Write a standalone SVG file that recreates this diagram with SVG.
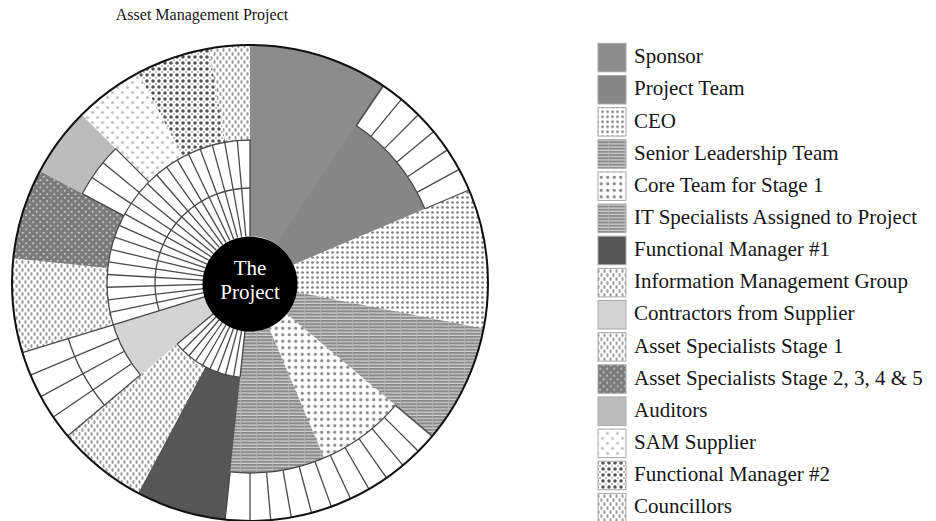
<svg xmlns="http://www.w3.org/2000/svg" xmlns:xlink="http://www.w3.org/1999/xlink" width="936" height="521" viewBox="0 0 936 521">
<style>
.t{font-family:"Liberation Serif","Times New Roman",serif;fill:#151515}
.lg{font-family:"Liberation Serif","Times New Roman",serif;font-size:21px;fill:#151515}
.sec{fill:none}
.gl{stroke:#4a4a4a;stroke-width:1.3;fill:none}
.sq{stroke:#a8a8a8;stroke-width:1}
</style>
<defs>
<pattern id="pCEO" width="5" height="5" patternUnits="userSpaceOnUse"><rect width="5" height="5" fill="#fff"/><circle cx="2.5" cy="2.5" r="1.35" fill="#808080"/></pattern>
<pattern id="pCore" width="6.5" height="6.5" patternUnits="userSpaceOnUse"><rect width="6.5" height="6.5" fill="#fff"/><circle cx="3.25" cy="3.25" r="1.6" fill="#888"/></pattern>
<pattern id="pLines" width="16" height="3.2" patternUnits="userSpaceOnUse"><rect width="16" height="3.2" fill="#d0d0d0"/><rect width="16" height="2" fill="#8a8a8a"/><rect width="0.7" height="3.2" fill="#b8b8b8"/></pattern>
<pattern id="pV" width="6" height="8" patternUnits="userSpaceOnUse"><rect width="6" height="8" fill="#fff"/><ellipse cx="1.5" cy="2" rx="1.1" ry="2" fill="#999"/><ellipse cx="4.5" cy="6" rx="1.1" ry="2" fill="#999"/></pattern>
<pattern id="pAS2" width="7" height="7" patternUnits="userSpaceOnUse"><rect width="7" height="7" fill="#7b7b7b"/><circle cx="1.75" cy="1.75" r="1.1" fill="#c6c6c6"/><circle cx="5.25" cy="5.25" r="1.1" fill="#c6c6c6"/></pattern>
<pattern id="pSAM" width="10" height="10" patternUnits="userSpaceOnUse"><rect width="10" height="10" fill="#fff"/><circle cx="2.5" cy="2.5" r="1.6" fill="#c4c4c4"/><circle cx="7.5" cy="7.5" r="1.6" fill="#c4c4c4"/></pattern>
<pattern id="pFM2" width="6" height="6" patternUnits="userSpaceOnUse"><rect width="6" height="6" fill="#fff"/><circle cx="3" cy="3" r="1.8" fill="#555"/><circle cx="0" cy="0" r="1" fill="#aaa"/><circle cx="6" cy="0" r="1" fill="#aaa"/><circle cx="0" cy="6" r="1" fill="#aaa"/><circle cx="6" cy="6" r="1" fill="#aaa"/></pattern>
<line id="L4" x1="250" y1="93" x2="250" y2="45"/>
<line id="L3" x1="250" y1="140" x2="250" y2="93"/>
<line id="L34" x1="250" y1="140" x2="250" y2="45"/>
<line id="L1" x1="250" y1="236" x2="250" y2="188"/>
<line id="L12" x1="250" y1="236" x2="250" y2="140"/>
</defs>
<rect width="936" height="521" fill="#fff"/>
<text class="t" x="202" y="20" font-size="16" text-anchor="middle">Asset Management Project</text>

<circle cx="250" cy="283" r="238" fill="#fff"/>

<g id="sponsor"><circle class="sec" cx="250" cy="283" r="142.5" stroke="#8c8c8c" stroke-width="191" pathLength="360" stroke-dasharray="34.3 325.7" stroke-dashoffset="90"/></g>
<g id="project-team"><circle class="sec" cx="250" cy="283" r="118.5" stroke="#868686" stroke-width="143" pathLength="360" stroke-dasharray="33.3 326.7" stroke-dashoffset="56"/></g>
<g id="ceo"><circle class="sec" cx="250" cy="283" r="142.5" stroke="url(#pCEO)" stroke-width="191" pathLength="360" stroke-dasharray="34.3 325.7" stroke-dashoffset="23"/></g>
<g id="senior-leadership-team"><circle class="sec" cx="250" cy="283" r="142.5" stroke="url(#pLines)" stroke-width="191" pathLength="360" stroke-dasharray="29.3 330.7" stroke-dashoffset="-11"/></g>
<g id="core-team-stage-1"><circle class="sec" cx="250" cy="283" r="118.5" stroke="url(#pCore)" stroke-width="143" pathLength="360" stroke-dasharray="27.3 332.7" stroke-dashoffset="-40"/></g>
<g id="it-specialists"><circle class="sec" cx="250" cy="283" r="118.5" stroke="url(#pLines)" stroke-width="143" pathLength="360" stroke-dasharray="29.3 330.7" stroke-dashoffset="-67"/></g>
<g id="functional-manager-1"><circle class="sec" cx="250" cy="283" r="166.5" stroke="#565656" stroke-width="143" pathLength="360" stroke-dasharray="22.3 337.7" stroke-dashoffset="-96"/></g>
<g id="information-management-group"><circle class="sec" cx="250" cy="283" r="166.5" stroke="url(#pV)" stroke-width="143" pathLength="360" stroke-dasharray="22.3 337.7" stroke-dashoffset="-118"/></g>
<g id="contractors"><circle class="sec" cx="250" cy="283" r="95" stroke="#d4d4d4" stroke-width="96" pathLength="360" stroke-dasharray="23.3 336.7" stroke-dashoffset="-140"/></g>
<g id="asset-specialists-1"><circle class="sec" cx="250" cy="283" r="190.5" stroke="url(#pV)" stroke-width="95" pathLength="360" stroke-dasharray="23.3 336.7" stroke-dashoffset="-163"/></g>
<g id="asset-specialists-2-5"><circle class="sec" cx="250" cy="283" r="190.5" stroke="url(#pAS2)" stroke-width="95" pathLength="360" stroke-dasharray="22.3 337.7" stroke-dashoffset="-186"/></g>
<g id="auditors"><circle class="sec" cx="250" cy="283" r="214" stroke="#bcbcbc" stroke-width="48" pathLength="360" stroke-dasharray="17.3 342.7" stroke-dashoffset="-208"/></g>
<g id="sam-supplier"><circle class="sec" cx="250" cy="283" r="190.5" stroke="url(#pSAM)" stroke-width="95" pathLength="360" stroke-dasharray="17.3 342.7" stroke-dashoffset="-225"/></g>
<g id="functional-manager-2"><circle class="sec" cx="250" cy="283" r="190.5" stroke="url(#pFM2)" stroke-width="95" pathLength="360" stroke-dasharray="18.3 341.7" stroke-dashoffset="-242"/></g>
<g id="councillors"><circle class="sec" cx="250" cy="283" r="190.5" stroke="url(#pV)" stroke-width="95" pathLength="360" stroke-dasharray="10 350" stroke-dashoffset="-260"/></g>

<g id="grid" class="gl">
<use href="#L4" transform="rotate(34 250 283)"/><use href="#L4" transform="rotate(39.5 250 283)"/><use href="#L4" transform="rotate(45 250 283)"/><use href="#L4" transform="rotate(50.5 250 283)"/><use href="#L4" transform="rotate(56 250 283)"/><use href="#L4" transform="rotate(61.5 250 283)"/><use href="#L4" transform="rotate(67 250 283)"/>
<use href="#L4" transform="rotate(130 250 283)"/><use href="#L4" transform="rotate(135 250 283)"/><use href="#L4" transform="rotate(140 250 283)"/><use href="#L4" transform="rotate(145 250 283)"/><use href="#L4" transform="rotate(150 250 283)"/><use href="#L4" transform="rotate(155 250 283)"/><use href="#L4" transform="rotate(160 250 283)"/><use href="#L4" transform="rotate(165 250 283)"/><use href="#L4" transform="rotate(170 250 283)"/><use href="#L4" transform="rotate(175 250 283)"/><use href="#L4" transform="rotate(180 250 283)"/><use href="#L4" transform="rotate(186 250 283)"/>
<use href="#L1" transform="rotate(186 250 283)"/><use href="#L1" transform="rotate(190 250 283)"/><use href="#L1" transform="rotate(195 250 283)"/><use href="#L1" transform="rotate(200 250 283)"/><use href="#L1" transform="rotate(205 250 283)"/><use href="#L1" transform="rotate(210 250 283)"/><use href="#L1" transform="rotate(215 250 283)"/><use href="#L1" transform="rotate(220 250 283)"/><use href="#L1" transform="rotate(225 250 283)"/><use href="#L1" transform="rotate(230 250 283)"/>
<use href="#L12" transform="rotate(253 250 283)"/><use href="#L12" transform="rotate(258.1 250 283)"/><use href="#L12" transform="rotate(263.2 250 283)"/><use href="#L12" transform="rotate(268.3 250 283)"/><use href="#L12" transform="rotate(273.4 250 283)"/><use href="#L12" transform="rotate(278.5 250 283)"/><use href="#L12" transform="rotate(283.6 250 283)"/><use href="#L12" transform="rotate(288.7 250 283)"/><use href="#L12" transform="rotate(293.8 250 283)"/><use href="#L12" transform="rotate(298.9 250 283)"/><use href="#L12" transform="rotate(303.9 250 283)"/><use href="#L12" transform="rotate(309 250 283)"/><use href="#L12" transform="rotate(314.1 250 283)"/><use href="#L12" transform="rotate(319.2 250 283)"/><use href="#L12" transform="rotate(324.3 250 283)"/><use href="#L12" transform="rotate(329.4 250 283)"/><use href="#L12" transform="rotate(334.5 250 283)"/><use href="#L12" transform="rotate(339.6 250 283)"/><use href="#L12" transform="rotate(344.7 250 283)"/><use href="#L12" transform="rotate(349.8 250 283)"/><use href="#L12" transform="rotate(354.9 250 283)"/><use href="#L12" transform="rotate(360 250 283)"/>
<use href="#L3" transform="rotate(298 250 283)"/><use href="#L3" transform="rotate(303.7 250 283)"/><use href="#L3" transform="rotate(309.3 250 283)"/><use href="#L3" transform="rotate(315 250 283)"/>
<use href="#L34" transform="rotate(230 250 283)"/><use href="#L34" transform="rotate(235.75 250 283)"/><use href="#L34" transform="rotate(241.5 250 283)"/><use href="#L34" transform="rotate(247.25 250 283)"/><use href="#L34" transform="rotate(253 250 283)"/>
<circle cx="250" cy="283" r="190" pathLength="360" stroke-dasharray="33 327" stroke-dashoffset="56"/>
<circle cx="250" cy="283" r="190" pathLength="360" stroke-dasharray="56 304" stroke-dashoffset="-40"/>
<circle cx="250" cy="283" r="190" pathLength="360" stroke-dasharray="17 343" stroke-dashoffset="-208"/>
<circle cx="250" cy="283" r="190" pathLength="360" stroke-dasharray="23 337" stroke-dashoffset="-140"/>
<circle cx="250" cy="283" r="95" pathLength="360" stroke-dasharray="44 316" stroke-dashoffset="-96"/>
<circle cx="250" cy="283" r="95" pathLength="360" stroke-dasharray="107 253" stroke-dashoffset="-163"/>
<circle cx="250" cy="283" r="143" pathLength="360" stroke-dasharray="130 230" stroke-dashoffset="-140"/>
</g>

<circle cx="250" cy="283" r="238" fill="none" stroke="#111" stroke-width="2"/>

<g id="the-project">
<circle cx="250" cy="284" r="47.5" fill="#000"/>
<text x="250" y="275" font-family="Liberation Serif, Times New Roman, serif" font-size="21" text-anchor="middle" fill="#fff">The</text>
<text x="250" y="299" font-family="Liberation Serif, Times New Roman, serif" font-size="21" text-anchor="middle" fill="#fff">Project</text>
</g>

<g id="legend">
<g id="lg-sponsor" transform="translate(0 0)"><rect class="sq" x="598" y="43.3" width="28" height="28.5" fill="#8c8c8c"/><text class="lg" x="634" y="63.3">Sponsor</text></g>
<g id="lg-project-team" transform="translate(0 32.15)"><rect class="sq" x="598" y="43.3" width="28" height="28.5" fill="#868686"/><text class="lg" x="634" y="63.3">Project Team</text></g>
<g id="lg-ceo" transform="translate(0 64.3)"><rect class="sq" x="598" y="43.3" width="28" height="28.5" fill="url(#pCEO)"/><text class="lg" x="634" y="63.3">CEO</text></g>
<g id="lg-slt" transform="translate(0 96.45)"><rect class="sq" x="598" y="43.3" width="28" height="28.5" fill="url(#pLines)"/><text class="lg" x="634" y="63.3">Senior Leadership Team</text></g>
<g id="lg-core" transform="translate(0 128.6)"><rect class="sq" x="598" y="43.3" width="28" height="28.5" fill="url(#pCore)"/><text class="lg" x="634" y="63.3">Core Team for Stage 1</text></g>
<g id="lg-it" transform="translate(0 160.75)"><rect class="sq" x="598" y="43.3" width="28" height="28.5" fill="url(#pLines)"/><text class="lg" x="634" y="63.3">IT Specialists Assigned to Project</text></g>
<g id="lg-fm1" transform="translate(0 192.9)"><rect class="sq" x="598" y="43.3" width="28" height="28.5" fill="#565656"/><text class="lg" x="634" y="63.3">Functional Manager #1</text></g>
<g id="lg-img" transform="translate(0 225.05)"><rect class="sq" x="598" y="43.3" width="28" height="28.5" fill="url(#pV)"/><text class="lg" x="634" y="63.3">Information Management Group</text></g>
<g id="lg-contractors" transform="translate(0 257.2)"><rect class="sq" x="598" y="43.3" width="28" height="28.5" fill="#d4d4d4"/><text class="lg" x="634" y="63.3">Contractors from Supplier</text></g>
<g id="lg-as1" transform="translate(0 289.35)"><rect class="sq" x="598" y="43.3" width="28" height="28.5" fill="url(#pV)"/><text class="lg" x="634" y="63.3">Asset Specialists Stage 1</text></g>
<g id="lg-as2" transform="translate(0 321.5)"><rect class="sq" x="598" y="43.3" width="28" height="28.5" fill="url(#pAS2)"/><text class="lg" x="634" y="63.3">Asset Specialists Stage 2, 3, 4 &amp; 5</text></g>
<g id="lg-auditors" transform="translate(0 353.65)"><rect class="sq" x="598" y="43.3" width="28" height="28.5" fill="#bcbcbc"/><text class="lg" x="634" y="63.3">Auditors</text></g>
<g id="lg-sam" transform="translate(0 385.8)"><rect class="sq" x="598" y="43.3" width="28" height="28.5" fill="url(#pSAM)"/><text class="lg" x="634" y="63.3">SAM Supplier</text></g>
<g id="lg-fm2" transform="translate(0 417.95)"><rect class="sq" x="598" y="43.3" width="28" height="28.5" fill="url(#pFM2)"/><text class="lg" x="634" y="63.3">Functional Manager #2</text></g>
<g id="lg-councillors" transform="translate(0 450.1)"><rect class="sq" x="598" y="43.3" width="28" height="28.5" fill="url(#pV)"/><text class="lg" x="634" y="63.3">Councillors</text></g>
</g>
</svg>
